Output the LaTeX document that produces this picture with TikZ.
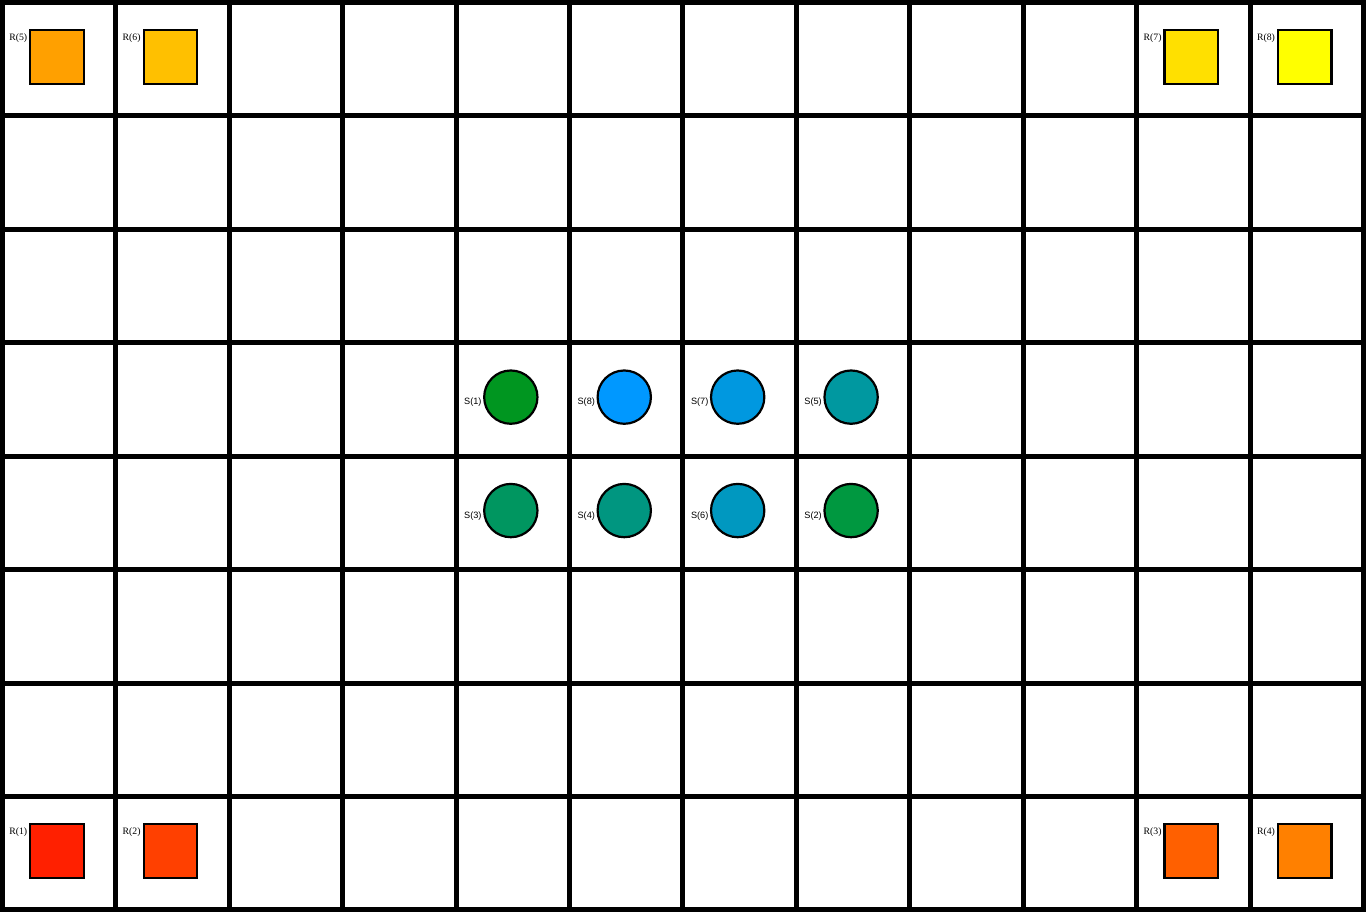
\documentclass[tikz,border=0pt]{standalone}
\usepackage{fontspec}
\setmainfont{Liberation Serif}
\setsansfont{Liberation Sans}
\usetikzlibrary{positioning}

\definecolor{rc1}{RGB}{255,32,0}
\definecolor{rc2}{RGB}{255,64,0}
\definecolor{rc3}{RGB}{255,96,0}
\definecolor{rc4}{RGB}{255,128,0}
\definecolor{rc5}{RGB}{255,160,0}
\definecolor{rc6}{RGB}{255,192,0}
\definecolor{rc7}{RGB}{255,224,0}
\definecolor{rc8}{RGB}{255,255,0}
\definecolor{sc1}{RGB}{0,150,32}
\definecolor{sc2}{RGB}{0,152,64}
\definecolor{sc3}{RGB}{0,150,96}
\definecolor{sc4}{RGB}{0,150,128}
\definecolor{sc5}{RGB}{0,152,160}
\definecolor{sc6}{RGB}{0,152,192}
\definecolor{sc7}{RGB}{0,152,224}
\definecolor{sc8}{RGB}{0,152,255}

\begin{document}
\begin{tikzpicture}[
    x=1cm, y=1cm,
    gridline/.style={line width=1.25pt, line cap=rect},
    robot/.style={
        draw=black,
        line width=0.55pt,
        minimum size=0.472cm,
        inner sep=0pt,
        fill=#1,
    },
    site/.style={
        circle,
        draw=black,
        line width=0.55pt,
        minimum size=0.47cm,
        inner sep=0pt,
        fill=#1,
    },
    rtag/.style={inner sep=0pt, font=\fontsize{2.45}{2.8}\selectfont},
    stag/.style={inner sep=0.2pt, font=\sffamily\fontsize{2.3}{2.8}\selectfont},
]

\useasboundingbox (-0.0203,-0.041) rectangle (12.0397,8.022);
\fill[white] (-0.0203,-0.041) rectangle (12.0397,8.022);

% --- Grid ---
\draw[gridline] (0,0) grid (12,8);

% --- Robots (squares) ---
\foreach \i/\c/\r in {1/0/0, 2/1/0, 3/10/0, 4/11/0, 5/0/7, 6/1/7, 7/10/7, 8/11/7} {
    \node[robot=rc\i] (R\i) at (\c+0.482, \r+0.52) {};
    \node[rtag, below left=0.035 and 0.01 of R\i.north west] (tR\i) {R(\i)};
}

% --- Sites (circles) ---
\foreach \i/\c/\r in {1/4/4, 8/5/4, 7/6/4, 5/7/4, 3/4/3, 4/5/3, 6/6/3, 2/7/3} {
    \node[site=sc\i] (S\i) at (\c+0.483, \r+0.521) {};
    \node[stag, left=0pt of S\i.west, yshift=-0.045cm] (tS\i) {S(\i)};
}

\end{tikzpicture}
\end{document}
